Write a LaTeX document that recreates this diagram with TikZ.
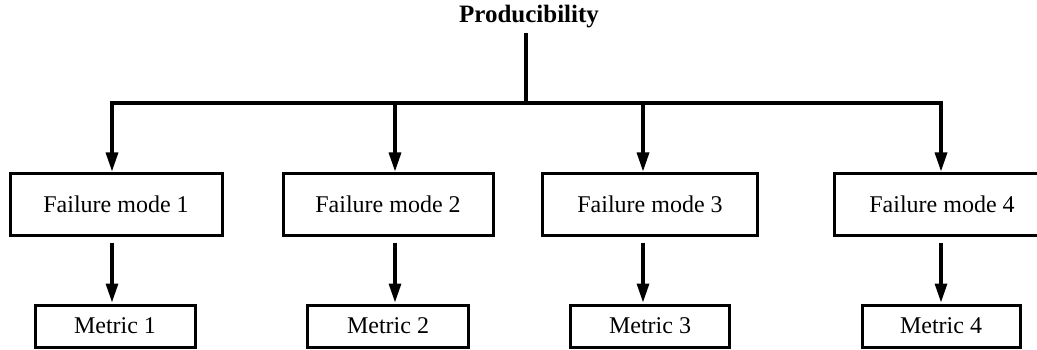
\documentclass[tikz,border=0pt]{standalone}
\usepackage{fontspec}
\setmainfont{Liberation Serif}
\usetikzlibrary{arrows.meta}
\tikzset{
  box/.style={draw, line width=3pt, inner sep=0pt, font=\fontsize{24}{28}\selectfont},
  modebox/.style={box, minimum height=61pt},
  metricbox/.style={box, minimum height=42pt},
  wire/.style={line width=3.2pt},
  arr/.style={wire, -{Triangle[length=19pt,width=12pt]}, shorten >=1pt},
}
\begin{document}
\begin{tikzpicture}[x=1pt,y=-1pt]
  \useasboundingbox (0,0) rectangle (1037,350);

  % top level
  \node[font=\fontsize{25}{30}\selectfont\bfseries] (top) at (529,17) {Producibility};
  \coordinate (stem) at (526,33);
  \coordinate (busL) at (112,103);
  \coordinate (busR) at (941,103);
  \coordinate (busM) at (526,103);

  % failure modes
  \node[modebox, minimum width=212pt] (f1) at (116,204.5) {Failure mode 1};
  \node[modebox, minimum width=210pt] (f2) at (388,204.5) {Failure mode 2};
  \node[modebox, minimum width=215pt] (f3) at (650,204.5) {Failure mode 3};
  \node[modebox, minimum width=216pt] (f4) at (942,204.5) {Failure mode 4};

  % metrics
  \node[metricbox, minimum width=160pt] (m1) at (115,326) {Metric 1};
  \node[metricbox, minimum width=161pt] (m2) at (388,326) {Metric 2};
  \node[metricbox, minimum width=159pt] (m3) at (650,326) {Metric 3};
  \node[metricbox, minimum width=158pt] (m4) at (941,326) {Metric 4};

  % drop points on the bus
  \coordinate (b1) at (112,103);
  \coordinate (b2) at (395,103);
  \coordinate (b3) at (643,103);
  \coordinate (b4) at (941,103);

  % stem and bus
  \draw[wire] (stem) -- (busM);
  \draw[wire, line cap=rect] (busL) -- (busR);

  % arrows to failure modes
  \draw[arr] (b1) -- (b1 |- f1.north);
  \draw[arr] (b2) -- (b2 |- f2.north);
  \draw[arr] (b3) -- (b3 |- f3.north);
  \draw[arr] (b4) -- (b4 |- f4.north);

  % arrows to metrics
  \draw[arr] ([yshift=-6pt]b1 |- f1.south) -- (b1 |- m1.north);
  \draw[arr] ([yshift=-6pt]b2 |- f2.south) -- (b2 |- m2.north);
  \draw[arr] ([yshift=-6pt]b3 |- f3.south) -- (b3 |- m3.north);
  \draw[arr] ([yshift=-6pt]b4 |- f4.south) -- (b4 |- m4.north);
\end{tikzpicture}
\end{document}
